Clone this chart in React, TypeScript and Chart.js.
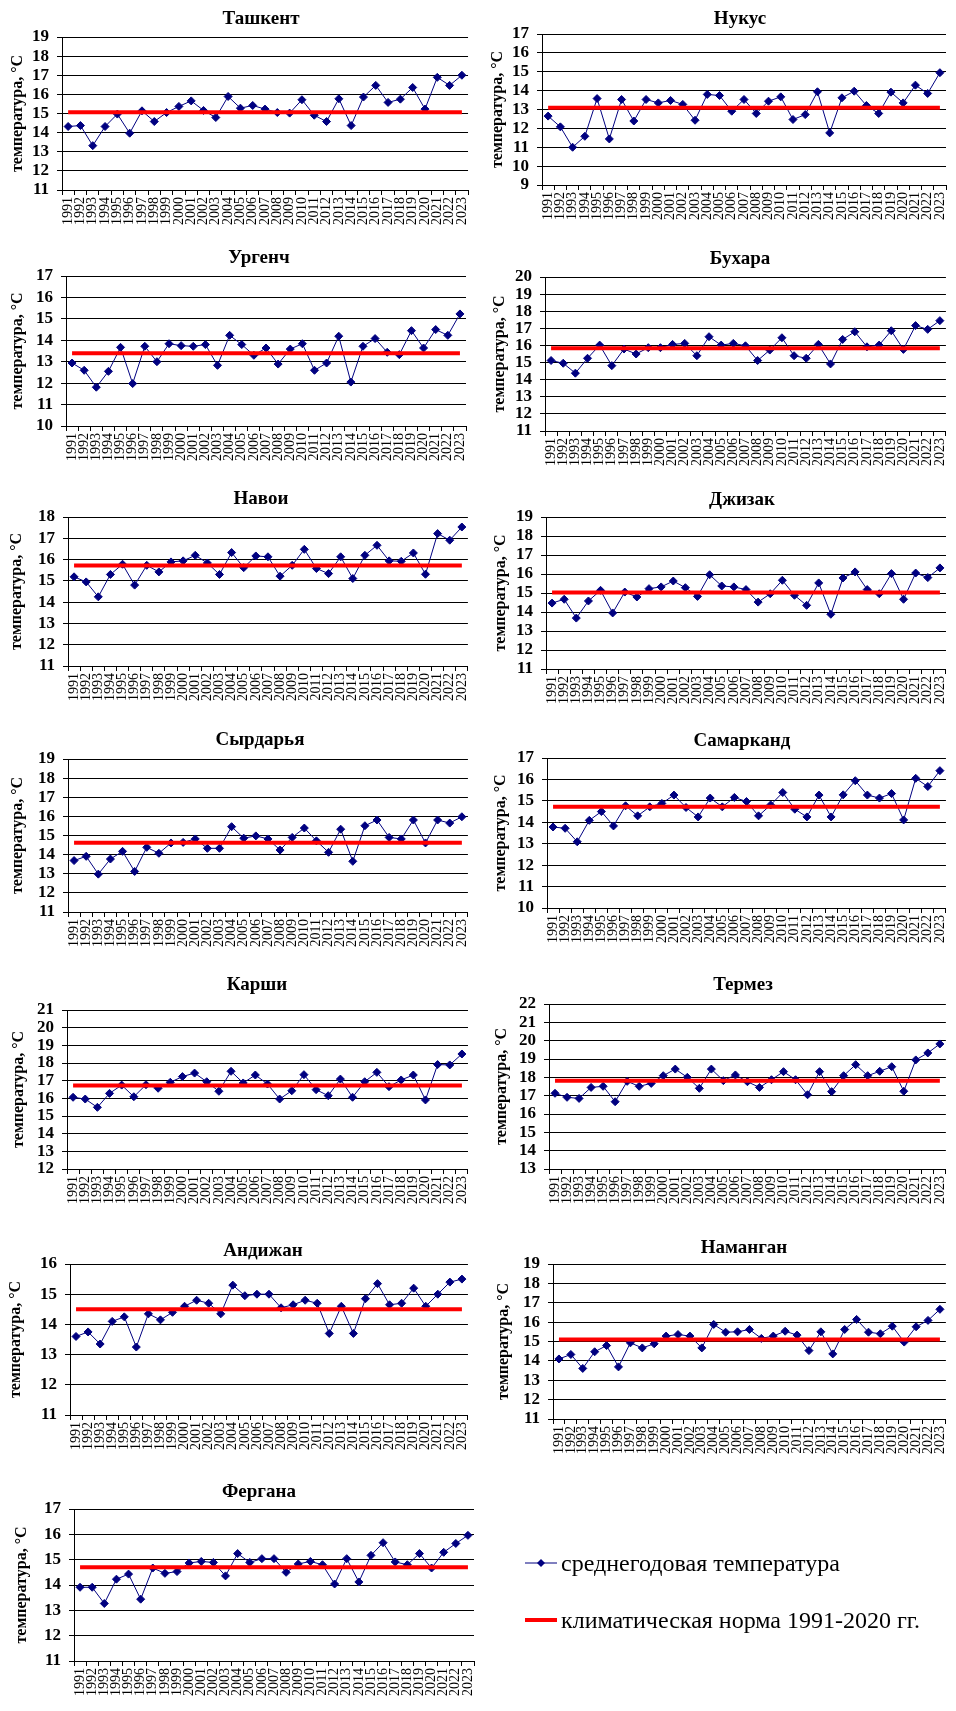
import React, { useEffect, useRef } from "react";
import { Chart, registerables } from "chart.js";

Chart.register(...registerables);

// ---- data -----------------------------------------------------------------

const years = [
  "1991", "1992", "1993", "1994", "1995", "1996", "1997", "1998", "1999", "2000",
  "2001", "2002", "2003", "2004", "2005", "2006", "2007", "2008", "2009", "2010",
  "2011", "2012", "2013", "2014", "2015", "2016", "2017", "2018", "2019", "2020",
  "2021", "2022", "2023",
];

const tashkentTemp = [
  14.32, 14.37, 13.32, 14.32, 14.97, 13.97, 15.14, 14.58, 15.05, 15.37,
  15.66, 15.16, 14.79, 15.89, 15.28, 15.42, 15.23, 15.05, 15.02, 15.72,
  14.91, 14.58, 15.77, 14.37, 15.86, 16.47, 15.58, 15.75, 16.36, 15.23,
  16.89, 16.47, 17.0,
];
const nukusTemp = [
  12.65, 12.08, 11.0, 11.58, 13.58, 11.44, 13.53, 12.39, 13.53, 13.35,
  13.48, 13.27, 12.43, 13.8, 13.74, 12.91, 13.53, 12.79, 13.44, 13.67,
  12.47, 12.73, 13.94, 11.76, 13.62, 13.97, 13.21, 12.79, 13.92, 13.35,
  14.29, 13.85, 14.95,
];
const urgenchTemp = [
  12.94, 12.6, 11.81, 12.55, 13.67, 11.98, 13.72, 13.0, 13.84, 13.75,
  13.72, 13.8, 12.83, 14.23, 13.8, 13.3, 13.64, 12.89, 13.59, 13.84,
  12.6, 12.94, 14.19, 12.05, 13.72, 14.08, 13.44, 13.33, 14.45, 13.64,
  14.5, 14.23, 15.23,
];
const bukharaTemp = [
  15.12, 14.96, 14.38, 15.25, 16.02, 14.82, 15.79, 15.5, 15.87, 15.87,
  16.06, 16.12, 15.4, 16.51, 16.02, 16.12, 15.98, 15.12, 15.73, 16.45,
  15.4, 15.25, 16.06, 14.92, 16.35, 16.8, 15.92, 16.02, 16.86, 15.77,
  17.16, 16.94, 17.45,
];
const navoiTemp = [
  15.19, 14.95, 14.25, 15.3, 15.78, 14.8, 15.73, 15.42, 15.89, 15.94,
  16.2, 15.84, 15.3, 16.33, 15.62, 16.17, 16.13, 15.22, 15.73, 16.48,
  15.58, 15.34, 16.13, 15.11, 16.2, 16.67, 15.94, 15.92, 16.31, 15.31,
  17.22, 16.91, 17.53,
];
const jizzakhTemp = [
  14.47, 14.67, 13.68, 14.58, 15.14, 13.95, 15.05, 14.79, 15.23, 15.32,
  15.63, 15.28, 14.82, 15.96, 15.37, 15.32, 15.18, 14.52, 14.96, 15.67,
  14.88, 14.35, 15.53, 13.88, 15.79, 16.11, 15.18, 14.96, 16.02, 14.67,
  16.05, 15.81, 16.32,
];
const syrdaryaTemp = [
  13.69, 13.91, 12.98, 13.77, 14.17, 13.12, 14.38, 14.07, 14.61, 14.64,
  14.82, 14.33, 14.33, 15.46, 14.86, 14.98, 14.82, 14.24, 14.9, 15.39,
  14.72, 14.12, 15.33, 13.65, 15.51, 15.81, 14.9, 14.82, 15.81, 14.61,
  15.81, 15.65, 15.98,
];
const samarkandTemp = [
  13.78, 13.72, 13.09, 14.09, 14.5, 13.83, 14.77, 14.3, 14.72, 14.88,
  15.27, 14.69, 14.25, 15.13, 14.72, 15.16, 14.97, 14.3, 14.81, 15.39,
  14.61, 14.25, 15.27, 14.25, 15.28, 15.94, 15.27, 15.13, 15.34, 14.11,
  16.05, 15.67, 16.41,
];
const karshiTemp = [
  16.06, 15.96, 15.49, 16.28, 16.75, 16.09, 16.77, 16.57, 16.91, 17.23,
  17.43, 16.94, 16.4, 17.53, 16.87, 17.32, 16.81, 15.96, 16.43, 17.34,
  16.49, 16.15, 17.09, 16.06, 16.94, 17.47, 16.66, 17.04, 17.32, 15.91,
  17.91, 17.89, 18.51,
];
const termezTemp = [
  17.13, 16.91, 16.85, 17.45, 17.51, 16.67, 17.78, 17.51, 17.67, 18.09,
  18.45, 18.0, 17.4, 18.45, 17.82, 18.13, 17.76, 17.45, 17.87, 18.31,
  17.87, 17.05, 18.31, 17.22, 18.09, 18.69, 18.09, 18.33, 18.58, 17.24,
  18.95, 19.33, 19.82,
];
const andijanTemp = [
  13.6, 13.75, 13.35, 14.1, 14.25, 13.25, 14.35, 14.15, 14.4, 14.6,
  14.8, 14.7, 14.35, 15.3, 14.95, 15.0, 15.0, 14.55, 14.65, 14.8,
  14.7, 13.7, 14.6, 13.7, 14.85, 15.35, 14.65, 14.7, 15.2, 14.6,
  15.0, 15.4, 15.5,
];
const namanganTemp = [
  14.1, 14.33, 13.61, 14.47, 14.79, 13.69, 14.93, 14.67, 14.88, 15.28,
  15.36, 15.28, 14.67, 15.88, 15.48, 15.5, 15.62, 15.16, 15.28, 15.53,
  15.33, 14.53, 15.5, 14.36, 15.62, 16.14, 15.48, 15.4, 15.79, 14.97,
  15.76, 16.09, 16.66,
];
const ferganaTemp = [
  13.91, 13.91, 13.27, 14.23, 14.43, 13.44, 14.67, 14.46, 14.53, 14.87,
  14.93, 14.89, 14.36, 15.24, 14.89, 15.04, 15.04, 14.5, 14.83, 14.93,
  14.8, 14.04, 15.04, 14.12, 15.17, 15.67, 14.91, 14.8, 15.24, 14.67,
  15.29, 15.64, 15.96,
];

// climate normals 1991-2020, °C
const tashkentNorm = 15.07;
const nukusNorm = 13.09;
const urgenchNorm = 13.4;
const bukharaNorm = 15.83;
const navoiNorm = 15.72;
const jizzakhNorm = 15.02;
const syrdaryaNorm = 14.62;
const samarkandNorm = 14.72;
const karshiNorm = 16.72;
const termezNorm = 17.82;
const andijanNorm = 14.5;
const namanganNorm = 15.1;
const ferganaNorm = 14.7;

const seriesLabel = "среднегодовая температура";
const normLabel = "климатическая норма 1991-2020 гг.";
const axisTitle = "температура, °С";

// ---- styling ----------------------------------------------------------------

const SERIF = "'Times New Roman', 'Liberation Serif', serif";
const NAVY = "#000080";
const RED = "#FF0000";
const BLACK = "#000000";

Chart.defaults.font.family = SERIF;
Chart.defaults.color = BLACK;

type PanelSpec = {
  name: string;
  temps: number[];
  norm: number;
  yMin: number;
  yMax: number;
  box: [number, number, number, number]; // canvas left, top, width, height (page px)
  plot: [number, number, number, number]; // plot left, top, right, bottom (page px)
  title: [number, number]; // title centre (page px)
  axisTitleX: number; // centre of the rotated axis title (page px)
  legend?: boolean;
};

const L = 0;
const R = 478;
const W = 478;

const panels: PanelSpec[] = [
  { name: "Ташкент", temps: tashkentTemp, norm: tashkentNorm, yMin: 11, yMax: 19,
    box: [L, 0, W, 240], plot: [62, 37, 471, 190], title: [261, 19], axisTitleX: 18 },
  { name: "Нукус", temps: nukusTemp, norm: nukusNorm, yMin: 9, yMax: 17,
    box: [R, 0, W, 240], plot: [542, 34, 949, 185], title: [740, 19], axisTitleX: 498 },
  { name: "Ургенч", temps: urgenchTemp, norm: urgenchNorm, yMin: 10, yMax: 17,
    box: [L, 240, W, 244], plot: [66, 276, 466, 426], title: [259, 258], axisTitleX: 18 },
  { name: "Бухара", temps: bukharaTemp, norm: bukharaNorm, yMin: 11, yMax: 20,
    box: [R, 240, W, 244], plot: [545, 277, 946, 431], title: [740, 259], axisTitleX: 500 },
  { name: "Навои", temps: navoiTemp, norm: navoiNorm, yMin: 11, yMax: 18,
    box: [L, 484, W, 242], plot: [68, 517, 468, 666], title: [261, 499], axisTitleX: 17 },
  { name: "Джизак", temps: jizzakhTemp, norm: jizzakhNorm, yMin: 11, yMax: 19,
    box: [R, 484, W, 242], plot: [546, 517, 951, 669], title: [742, 500], axisTitleX: 501 },
  { name: "Сырдарья", temps: syrdaryaTemp, norm: syrdaryaNorm, yMin: 11, yMax: 19,
    box: [L, 726, W, 240], plot: [68, 759, 469, 912], title: [260, 740], axisTitleX: 18 },
  { name: "Самарканд", temps: samarkandTemp, norm: samarkandNorm, yMin: 10, yMax: 17,
    box: [R, 726, W, 240], plot: [547, 758, 949, 908], title: [742, 741], axisTitleX: 501 },
  { name: "Карши", temps: karshiTemp, norm: karshiNorm, yMin: 12, yMax: 21,
    box: [L, 966, W, 243], plot: [67, 1010, 472, 1169], title: [257, 985], axisTitleX: 19 },
  { name: "Термез", temps: termezTemp, norm: termezNorm, yMin: 13, yMax: 22,
    box: [R, 966, W, 243], plot: [549, 1004, 946, 1169], title: [743, 985], axisTitleX: 502 },
  { name: "Андижан", temps: andijanTemp, norm: andijanNorm, yMin: 11, yMax: 16,
    box: [L, 1209, W, 249], plot: [70, 1264, 475, 1415], title: [263, 1251], axisTitleX: 16 },
  { name: "Наманган", temps: namanganTemp, norm: namanganNorm, yMin: 11, yMax: 19,
    box: [R, 1209, W, 249], plot: [553, 1264, 953, 1419], title: [744, 1248], axisTitleX: 504 },
  { name: "Фергана", temps: ferganaTemp, norm: ferganaNorm, yMin: 11, yMax: 17,
    box: [L, 1458, 956, 253], plot: [74, 1509, 474, 1661], title: [259, 1492], axisTitleX: 22,
    legend: true },
];

// ---- plugins ----------------------------------------------------------------

// Bold caption above each plot, centred on a given point.
const panelTitle = {
  id: "panelTitle",
  afterDraw(chart: any, _args: any, opts: any) {
    if (!opts || !opts.text) return;
    const ctx = chart.ctx as CanvasRenderingContext2D;
    ctx.save();
    ctx.font = `bold 19px ${SERIF}`;
    ctx.fillStyle = BLACK;
    ctx.textAlign = "center";
    ctx.textBaseline = "middle";
    ctx.fillText(opts.text, opts.x, opts.y);
    ctx.restore();
  },
};

// Key for both series, drawn beside the last plot.
const seriesKey = {
  id: "seriesKey",
  afterDraw(chart: any, _args: any, opts: any) {
    if (!opts || !opts.display) return;
    const ctx = chart.ctx as CanvasRenderingContext2D;
    const datasets = chart.data.datasets as any[];
    ctx.save();
    datasets.forEach((ds, i) => {
      const y = opts.rows[i];
      const x0 = opts.x;
      const x1 = opts.x + opts.lineLength;
      ctx.strokeStyle = ds.borderColor;
      ctx.lineWidth = ds.borderWidth;
      ctx.beginPath();
      ctx.moveTo(x0, y);
      ctx.lineTo(x1, y);
      ctx.stroke();
      if (ds.pointRadius > 0) {
        const cx = (x0 + x1) / 2;
        const r = ds.pointRadius;
        ctx.fillStyle = ds.pointBackgroundColor;
        ctx.beginPath();
        ctx.moveTo(cx - r, y);
        ctx.lineTo(cx, y - r);
        ctx.lineTo(cx + r, y);
        ctx.lineTo(cx, y + r);
        ctx.closePath();
        ctx.fill();
      }
      ctx.fillStyle = BLACK;
      ctx.font = `24px ${SERIF}`;
      ctx.textAlign = "left";
      ctx.textBaseline = "middle";
      ctx.fillText(ds.label, opts.textX, y + 2);
    });
    ctx.restore();
  },
};

// ---- chart ------------------------------------------------------------------

function buildConfig(p: PanelSpec): any {
  const [bx, by, bw, bh] = p.box;
  const [pl, pt, pr, pb] = p.plot;
  const yAxisWidth = pl - bx;
  const xAxisHeight = by + bh - pb;

  return {
    type: "line",
    data: {
      labels: years,
      datasets: [
        {
          label: seriesLabel,
          data: p.temps,
          borderColor: NAVY,
          borderWidth: 1,
          pointStyle: "rectRot",
          pointRadius: 4,
          pointBackgroundColor: NAVY,
          pointBorderColor: NAVY,
          pointBorderWidth: 1,
          tension: 0,
          order: 1,
        },
        {
          label: normLabel,
          data: years.map(() => p.norm),
          borderColor: RED,
          borderWidth: 4,
          pointRadius: 0,
          borderCapStyle: "butt",
          tension: 0,
          order: 0,
        },
      ],
    },
    options: {
      responsive: false,
      animation: false,
      events: [],
      layout: {
        padding: { top: pt - by, right: bx + bw - pr, bottom: 0, left: 0 },
      },
      plugins: {
        legend: { display: false },
        tooltip: { enabled: false },
        panelTitle: { text: p.name, x: p.title[0] - bx, y: p.title[1] - by },
        seriesKey: p.legend
          ? { display: true, x: 525 - bx, lineLength: 32, textX: 561 - bx, rows: [1563 - by, 1620 - by] }
          : { display: false },
      },
      scales: {
        x: {
          type: "category",
          offset: true,
          grid: {
            offset: true,
            drawOnChartArea: false,
            drawTicks: true,
            tickLength: 5,
            color: BLACK,
            lineWidth: 1,
          },
          border: { display: true, color: BLACK, width: 1 },
          ticks: {
            autoSkip: false,
            minRotation: 90,
            maxRotation: 90,
            padding: 2,
            color: BLACK,
            font: { family: SERIF, size: 14, weight: "normal", lineHeight: 1 },
          },
          afterFit: (scale: any) => {
            scale.height = xAxisHeight;
          },
        },
        y: {
          min: p.yMin,
          max: p.yMax,
          grid: { color: BLACK, lineWidth: 1, tickLength: 5 },
          border: { display: true, color: BLACK, width: 1 },
          ticks: {
            stepSize: 1,
            autoSkip: false,
            padding: 8,
            color: BLACK,
            font: { family: SERIF, size: 17, weight: 700, lineHeight: 1 },
          },
          title: {
            display: true,
            text: axisTitle,
            color: BLACK,
            font: { family: SERIF, size: 16, weight: 700, lineHeight: 1.2 },
            padding: { top: p.axisTitleX - bx - 9.6, bottom: 0 },
          },
          afterFit: (scale: any) => {
            scale.width = yAxisWidth;
          },
        },
      },
    },
    plugins: [panelTitle, seriesKey],
  };
}

function PanelChart({ spec }: { spec: PanelSpec }) {
  const ref = useRef<HTMLCanvasElement>(null);
  useEffect(() => {
    if (!ref.current) return;
    const chart = new Chart(ref.current, buildConfig(spec));
    return () => chart.destroy();
  }, [spec]);
  const [x, y, w, h] = spec.box;
  return (
    <canvas
      ref={ref}
      width={w}
      height={h}
      style={{ position: "absolute", left: x, top: y, width: w, height: h }}
    />
  );
}

export default function App() {
  return (
    <div
      style={{
        position: "absolute",
        left: 0,
        top: 0,
        width: 956,
        height: 1711,
        background: "#ffffff",
        overflow: "hidden",
      }}
    >
      {panels.map((p) => (
        <PanelChart key={p.name} spec={p} />
      ))}
    </div>
  );
}
